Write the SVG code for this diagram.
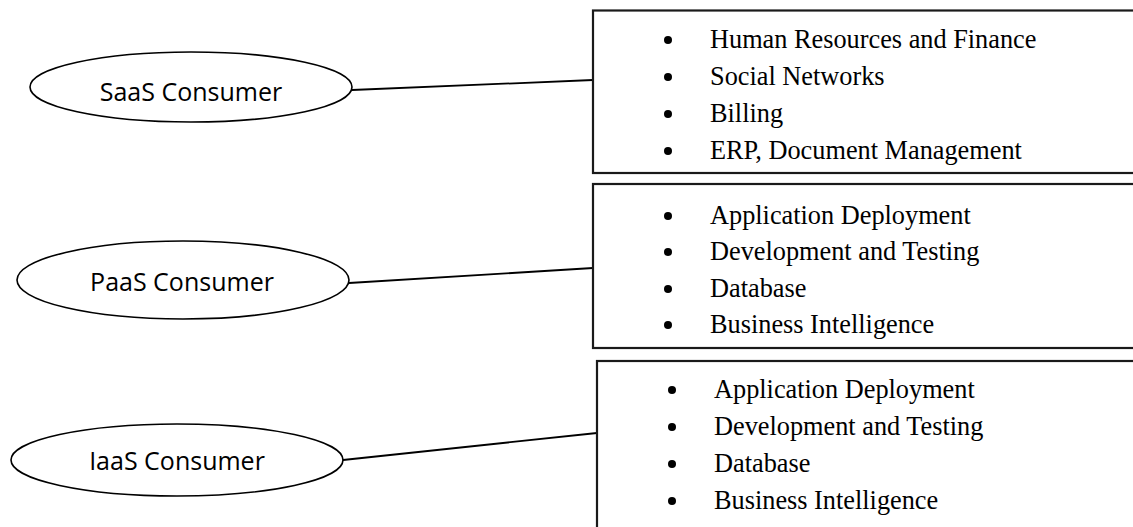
<svg xmlns="http://www.w3.org/2000/svg" width="1133" height="527" viewBox="0 0 1133 527">
  <style>
    .oval { fill: #ffffff; stroke: #000000; stroke-width: 1.6; }
    .oval-label { font-family: "Open Sans", "Liberation Sans", sans-serif; font-size: 25px; fill: #000000; text-anchor: middle; }
    .panel { fill: #ffffff; stroke: #1a1a1a; stroke-width: 2.2; }
    .item { font-family: "Liberation Serif", "Times New Roman", serif; font-size: 26.3px; fill: #000000; }
    .bullet { fill: #000000; }
    .link { stroke: #000000; stroke-width: 1.8; fill: none; }
  </style>
  <defs>
    <clipPath id="paas-clip">
      <rect x="593" y="184" width="545" height="155"/>
    </clipPath>
  </defs>
  <rect width="1133" height="527" fill="#ffffff"/>

  <!-- connectors from each consumer to its list of services -->
  <g id="connectors">
    <line class="link" x1="352" y1="90" x2="593" y2="80"/>
    <line class="link" x1="349" y1="283" x2="593" y2="268"/>
    <line class="link" x1="343" y1="460" x2="597" y2="433"/>
  </g>

  <g id="saas-consumer">
    <ellipse class="oval" cx="191" cy="87" rx="161" ry="35"/>
    <text class="oval-label" x="191" y="101">SaaS Consumer</text>
  </g>

  <g id="paas-consumer">
    <ellipse class="oval" cx="183" cy="280" rx="166" ry="39"/>
    <text class="oval-label" x="182" y="291">PaaS Consumer</text>
  </g>

  <g id="iaas-consumer">
    <ellipse class="oval" cx="177" cy="460" rx="166" ry="36"/>
    <text class="oval-label" x="177" y="470">IaaS Consumer</text>
  </g>

  <g id="saas-services">
    <rect class="panel" x="593" y="10.5" width="545" height="162.5"/>
    <circle class="bullet" cx="668" cy="40" r="4"/>
    <text class="item" x="710" y="48">Human Resources and Finance</text>
    <circle class="bullet" cx="668" cy="77" r="4"/>
    <text class="item" x="710" y="85">Social Networks</text>
    <circle class="bullet" cx="668" cy="114" r="4"/>
    <text class="item" x="710" y="122">Billing</text>
    <circle class="bullet" cx="668" cy="151" r="4"/>
    <text class="item" x="710" y="159">ERP, Document Management</text>
  </g>

  <g id="paas-services">
    <rect class="panel" x="593" y="184" width="545" height="164"/>
    <g clip-path="url(#paas-clip)">
      <circle class="bullet" cx="668" cy="216" r="4"/>
      <text class="item" x="710" y="224">Application Deployment</text>
      <circle class="bullet" cx="668" cy="252" r="4"/>
      <text class="item" x="710" y="260">Development and Testing</text>
      <circle class="bullet" cx="668" cy="289" r="4"/>
      <text class="item" x="710" y="297">Database</text>
      <circle class="bullet" cx="668" cy="325" r="4"/>
      <text class="item" x="710" y="333">Business Intelligence</text>
    </g>
  </g>

  <g id="iaas-services">
    <rect class="panel" x="597" y="361" width="545" height="180"/>
    <circle class="bullet" cx="672" cy="390" r="4"/>
    <text class="item" x="714" y="398">Application Deployment</text>
    <circle class="bullet" cx="672" cy="427" r="4"/>
    <text class="item" x="714" y="435">Development and Testing</text>
    <circle class="bullet" cx="672" cy="464" r="4"/>
    <text class="item" x="714" y="472">Database</text>
    <circle class="bullet" cx="672" cy="501" r="4"/>
    <text class="item" x="714" y="509">Business Intelligence</text>
  </g>
</svg>
